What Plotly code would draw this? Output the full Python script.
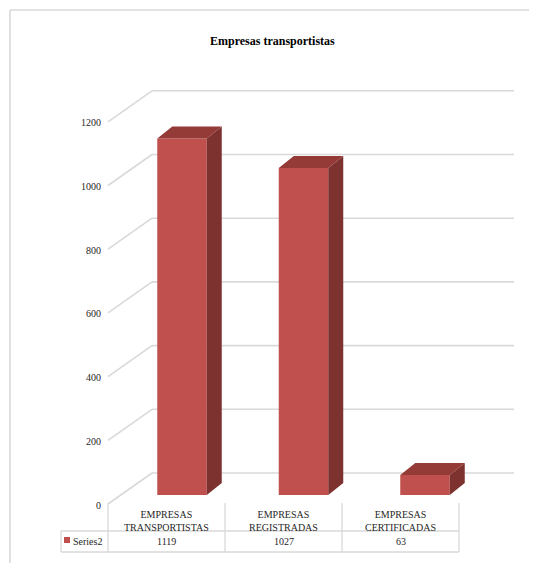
import plotly.graph_objects as go

# ---------------- data ----------------
categories = ["EMPRESAS<br>TRANSPORTISTAS", "EMPRESAS<br>REGISTRADAS", "EMPRESAS<br>CERTIFICADAS"]
values = [1119, 1027, 63]
value_labels = ["1119", "1027", "63"]
series_name = "Series2"
chart_title = "Empresas transportistas"
tick_values = [0, 200, 400, 600, 800, 1000, 1200]
tick_labels = ["0", "200", "400", "600", "800", "1000", "1200"]

# ---------------- layout constants (reference pixels) ----------------
PAGE_OFF = 8                  # browser body margin
W, H = 537 - 2 * PAGE_OFF, 571 - 2 * PAGE_OFF
PX_PER_UNIT = 0.3185          # vertical scale
BAR_BASE_PX = 495             # bar floor line
FRONT_BASE_PX = 505           # front-plane zero (tick labels)
CAT0_PX, CAT_STEP = 182.0, 121.5   # bar centres
TAB0_PX, TAB_STEP = 166.5, 117.0   # data-table cell centres

BAR_W = 49.5 / CAT_STEP
DEPTH_DX = 15 / CAT_STEP
DEPTH_DY = 12 / PX_PER_UNIT
FRONT_OFF = (BAR_BASE_PX - 504) / PX_PER_UNIT
BACK_OFF = (BAR_BASE_PX - 473) / PX_PER_UNIT
WALL_FRONT_X = (108 - CAT0_PX) / CAT_STEP
WALL_BACK_X = (152 - CAT0_PX) / CAT_STEP
WALL_RIGHT_X = (514 - CAT0_PX) / CAT_STEP

GRID = "#d9d9d9"
FRONT = "#c0504d"
SIDE = "#7e3230"
TOP = "#943a37"
TXT = "#262626"
FONT = "Liberation Serif, 'Times New Roman', serif"


def yrange(base_px):
    return [(base_px - PAGE_OFF - H) / PX_PER_UNIT, (base_px - PAGE_OFF) / PX_PER_UNIT]


def xrange(c0, step):
    return [(PAGE_OFF - c0) / step, (W + PAGE_OFF - c0) / step]


def py(px):
    return 1 - (px - PAGE_OFF) / H


def pxx(px):
    return (px - PAGE_OFF) / W


fig = go.Figure()
idx = list(range(len(values)))

# front faces
fig.add_trace(go.Bar(x=idx, y=values, width=BAR_W, marker=dict(color=FRONT, line=dict(width=0)),
                     name=series_name, showlegend=False, hoverinfo="skip"))

# side and top faces
sx, sy = [], []
tx, ty = [], []
for i, v in zip(idx, values):
    xr = i + BAR_W / 2
    xl = i - BAR_W / 2
    sx += [xr, xr + DEPTH_DX, xr + DEPTH_DX, xr, xr, None]
    sy += [0, DEPTH_DY, v + DEPTH_DY, v, 0, None]
    tx += [xl, xl + DEPTH_DX, xr + DEPTH_DX, xr, xl, None]
    ty += [v, v + DEPTH_DY, v + DEPTH_DY, v, v, None]
fig.add_trace(go.Scatter(x=sx, y=sy, mode="lines", fill="toself", fillcolor=SIDE,
                         line=dict(width=0, color=SIDE), hoverinfo="skip", showlegend=False))
fig.add_trace(go.Scatter(x=tx, y=ty, mode="lines", fill="toself", fillcolor=TOP,
                         line=dict(width=0, color=TOP), hoverinfo="skip", showlegend=False))

# invisible trace to carry the tick-label axis
fig.add_trace(go.Scatter(x=[WALL_FRONT_X], y=[0], yaxis="y2", mode="markers",
                         marker=dict(opacity=0), hoverinfo="skip", showlegend=False))

shapes = []
# walls / gridlines (behind the bars)
for v in tick_values:
    shapes.append(dict(type="line", xref="x", yref="y", layer="below",
                       x0=WALL_FRONT_X, y0=v + FRONT_OFF, x1=WALL_BACK_X, y1=v + BACK_OFF,
                       line=dict(color=GRID, width=1.6)))
    shapes.append(dict(type="line", xref="x", yref="y", layer="below",
                       x0=WALL_BACK_X, y0=v + BACK_OFF, x1=WALL_RIGHT_X, y1=v + BACK_OFF,
                       line=dict(color=GRID, width=1.6)))

# outer chart border
shapes.append(dict(type="line", xref="paper", yref="paper", x0=pxx(10), x1=pxx(10),
                   y0=py(10), y1=0, line=dict(color=GRID, width=1.6)))
shapes.append(dict(type="line", xref="paper", yref="paper", x0=pxx(10), x1=1,
                   y0=py(10), y1=py(10), line=dict(color=GRID, width=1.6)))

# data table grid
n = len(categories)
for k in range(n + 1):
    shapes.append(dict(type="line", xref="x2", yref="paper", x0=k - 0.5, x1=k - 0.5,
                       y0=py(503), y1=py(552), line=dict(color=GRID, width=1.3)))
left_cell = (61 - TAB0_PX) / TAB_STEP
for yy in (531, 552):
    shapes.append(dict(type="line", xref="x2", yref="paper", x0=left_cell, x1=n - 0.5,
                       y0=py(yy), y1=py(yy), line=dict(color=GRID, width=1.3)))
shapes.append(dict(type="line", xref="x2", yref="paper", x0=left_cell, x1=left_cell,
                   y0=py(531), y1=py(552), line=dict(color=GRID, width=1.3)))
# legend key
shapes.append(dict(type="rect", xref="paper", yref="paper", x0=pxx(64), x1=pxx(70),
                   y0=py(543), y1=py(537), fillcolor=FRONT, line=dict(width=0)))

annotations = []
for i, (c, lab) in enumerate(zip(categories, value_labels)):
    annotations.append(dict(x=i, xref="x2", y=py(521), yref="paper", text=c, showarrow=False,
                            xanchor="center", yanchor="middle",
                            font=dict(family=FONT, size=10, color=TXT)))
    annotations.append(dict(x=i, xref="x2", y=py(541.5), yref="paper", text=lab, showarrow=False,
                            xanchor="center", yanchor="middle",
                            font=dict(family=FONT, size=10, color=TXT)))
annotations.append(dict(x=pxx(71), xref="paper", y=py(541.5), yref="paper", text=series_name,
                        showarrow=False, xanchor="left", yanchor="middle",
                        font=dict(family=FONT, size=10, color=TXT)))
annotations.append(dict(x=pxx(272), xref="paper", y=py(41), yref="paper",
                        text="<b>" + chart_title + "</b>", showarrow=False,
                        xanchor="center", yanchor="middle",
                        font=dict(family=FONT, size=12, color="#000000")))

fig.update_layout(
    width=W, height=H,
    margin=dict(l=0, r=0, t=0, b=0),
    paper_bgcolor="white", plot_bgcolor="white",
    showlegend=False,
    font=dict(family=FONT),
    xaxis=dict(range=xrange(CAT0_PX, CAT_STEP), visible=False, fixedrange=True),
    xaxis2=dict(range=xrange(TAB0_PX, TAB_STEP), overlaying="x", visible=False, fixedrange=True),
    yaxis=dict(range=yrange(BAR_BASE_PX), visible=False, fixedrange=True),
    yaxis2=dict(range=yrange(FRONT_BASE_PX), overlaying="y", anchor="free", side="left",
                position=pxx(101), tickvals=tick_values, ticktext=tick_labels,
                showgrid=False, zeroline=False, showline=False, ticks="",
                tickfont=dict(family=FONT, size=10, color=TXT), fixedrange=True),
    shapes=shapes,
    annotations=annotations,
)

fig.write_html("out.html", config={"displayModeBar": False})
